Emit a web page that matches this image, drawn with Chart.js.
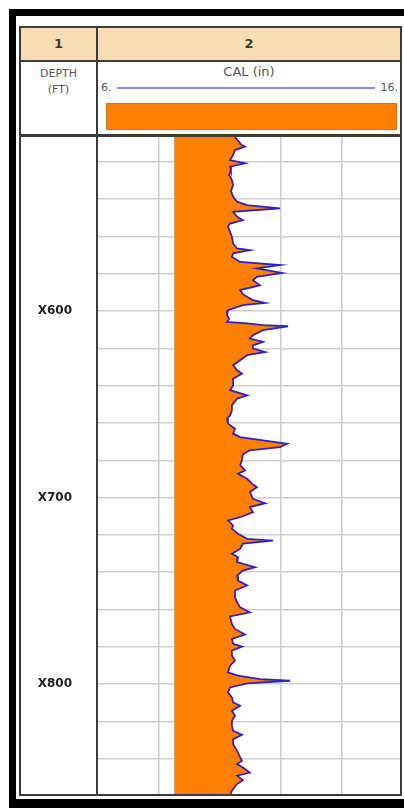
<!DOCTYPE html>
<html>
<head>
<meta charset="utf-8">
<script src="https://cdn.jsdelivr.net/npm/chart.js@4.4.1/dist/chart.umd.min.js"></script>
<style>
  html, body { margin: 0; padding: 0; background: #fff; }
  body { width: 404px; height: 808px; position: relative; overflow: hidden;
         font-family: "DejaVu Sans", "Liberation Sans", sans-serif; }
  .a { position: absolute; }
  .blk { background: #000; }
  .ln { background: #3c3c3c; }
  .hd { color: #555; text-align: center; white-space: nowrap; }
  #plot { position: absolute; left: 20px; top: 137px; }
</style>
</head>
<body>
  <!-- outer black frame -->
  <div class="a blk" style="left:9px;top:9px;width:395px;height:7px"></div>
  <div class="a blk" style="left:9px;top:9px;width:7px;height:799px"></div>
  <div class="a blk" style="left:9px;top:799px;width:395px;height:9px"></div>

  <!-- header band with track numbers -->
  <div class="a" style="left:21px;top:28px;width:379px;height:32px;background:#f6deb2"></div>
  <div class="a hd" style="left:21px;top:36px;width:75px;font-size:13px;font-weight:bold;color:#3a3a3a">1</div>
  <div class="a hd" style="left:98px;top:36px;width:302px;font-size:13px;font-weight:bold;color:#3a3a3a">2</div>

  <!-- curve header -->
  <div class="a hd" style="left:21px;top:66px;width:75px;font-size:11px;line-height:16px">DEPTH<br>(FT)</div>
  <div class="a hd" style="left:98px;top:64px;width:302px;font-size:13px">CAL (in)</div>
  <div class="a hd" style="left:101px;top:81px;font-size:11px;text-align:left">6.</div>
  <div class="a hd" style="left:374px;top:81px;width:24px;font-size:11px;text-align:right">16.</div>
  <div class="a" style="left:117px;top:87px;width:258px;height:2px;background:#8686ec"></div>
  <div class="a" style="left:106px;top:103px;width:291px;height:27px;background:#ff8000;box-shadow:inset 0 0 0 1px #e07410"></div>

  <canvas id="plot" width="383" height="659"></canvas>

  <!-- track frame lines -->
  <div class="a ln" style="left:19px;top:26px;width:383px;height:2px"></div>
  <div class="a ln" style="left:19px;top:60px;width:383px;height:2px"></div>
  <div class="a ln" style="left:19px;top:134px;width:383px;height:3px"></div>
  <div class="a ln" style="left:19px;top:794px;width:383px;height:2px"></div>
  <div class="a ln" style="left:19px;top:26px;width:2px;height:770px"></div>
  <div class="a ln" style="left:96px;top:26px;width:2px;height:770px"></div>
  <div class="a ln" style="left:400px;top:26px;width:2px;height:770px"></div>
  <div class="a" style="left:402px;top:16px;width:2px;height:783px;background:#fff"></div>

<script>
// Caliper log, track 2 (inches) against depth (ft)
const depth = [
  506.6, 510.9, 511.8, 513.6, 516.3, 519.0, 520.7, 522.5, 524.5, 527.0,
  529.7, 532.5, 535.5, 538.7, 541.3, 543.1, 544.9, 546.7, 549.4, 551.2,
  553.0, 554.8, 557.5, 560.1, 563.7, 566.4, 567.3, 569.0, 570.9, 573.6,
  575.3, 577.1, 579.5, 581.6, 583.4, 586.1, 588.7, 590.9, 592.3, 594.1,
  595.6, 596.8, 599.5, 602.2, 604.0, 605.8, 606.6, 607.5, 608.1, 610.2,
  612.9, 614.7, 616.5, 618.3, 620.1, 621.9, 623.6, 626.3, 629.0, 631.7,
  633.5, 636.2, 639.8, 642.4, 645.1, 646.9, 650.5, 653.2, 655.9, 657.6,
  660.3, 663.0, 665.7, 667.5, 669.3, 671.1, 672.9, 674.6, 676.8, 680.0,
  682.5, 685.4, 687.2, 689.9, 692.5, 694.4, 697.0, 700.6, 703.0, 705.1,
  707.8, 710.5, 712.2, 714.9, 716.7, 719.4, 722.1, 723.0, 724.7, 727.4,
  730.1, 731.9, 734.6, 737.3, 739.1, 741.8, 744.5, 747.1, 749.8, 753.4,
  756.1, 758.8, 761.5, 763.7, 767.7, 770.4, 773.4, 775.7, 778.4, 779.9,
  782.0, 784.7, 787.4, 790.1, 793.7, 795.5, 797.3, 798.2, 799.6, 801.8,
  804.4, 807.1, 809.8, 811.6, 814.3, 817.0, 819.6, 822.3, 825.0, 827.2,
  829.5, 832.2, 835.8, 839.3, 841.1, 842.9, 844.7, 847.4, 849.1, 851.5,
  853.6, 857.2, 860.0
];
const cal = [
  10.49, 10.71, 10.82, 10.49, 10.43, 10.33, 10.82, 10.33, 10.36, 10.30,
  10.39, 10.43, 10.36, 10.43, 10.56, 10.89, 11.97, 10.43, 10.56, 10.75,
  10.33, 10.26, 10.33, 10.39, 10.43, 10.56, 10.98, 10.43, 10.39, 10.66,
  11.97, 11.21, 12.03, 11.21, 11.08, 11.31, 10.66, 10.75, 10.89, 11.08,
  11.48, 10.75, 10.26, 10.23, 10.30, 10.23, 10.89, 11.41, 12.23, 11.41,
  11.08, 10.98, 11.41, 11.08, 11.08, 11.48, 10.89, 10.66, 10.43, 10.56,
  10.72, 10.43, 10.43, 10.33, 10.89, 10.56, 10.39, 10.39, 10.33, 10.23,
  10.26, 10.49, 10.43, 10.66, 11.41, 12.20, 11.97, 10.98, 10.75, 10.72,
  10.66, 10.82, 10.59, 10.89, 11.05, 11.21, 10.98, 11.08, 11.48, 10.98,
  11.08, 10.66, 10.26, 10.43, 10.39, 10.59, 10.89, 11.74, 10.75, 10.66,
  10.39, 10.59, 10.56, 11.15, 10.75, 10.56, 10.59, 10.89, 10.49, 10.49,
  10.56, 10.66, 10.98, 10.33, 10.39, 10.49, 10.82, 10.39, 10.43, 10.72,
  10.39, 10.39, 10.49, 10.33, 10.26, 10.59, 11.31, 12.30, 10.89, 10.33,
  10.26, 10.39, 10.43, 10.66, 10.39, 10.49, 10.39, 10.39, 10.43, 10.72,
  10.43, 10.43, 10.56, 10.66, 10.72, 10.56, 10.75, 10.98, 10.56, 10.75,
  10.56, 10.39, 10.33
];
const bitSize = 8.5;                 // fill baseline (in)
const calGrid = [8, 10, 12, 14];     // vertical grid, inches
const depthGrid = [520, 540, 560, 580, 600, 620, 640, 660, 680, 700,
                   720, 740, 760, 780, 800, 820, 840];
const labelDepths = [600, 700, 800];
const depthLabels = ['X600', 'X700', 'X800'];
const topDepth = 506.6, bottomDepth = 860;

const gridColor = '#d0d0d0';

new Chart(document.getElementById('plot'), {
  type: 'line',
  data: {
    datasets: [{
      data: depth.map((d, i) => ({ x: cal[i], y: d })),
      borderColor: '#2f22c8',
      borderWidth: 1.8,
      backgroundColor: '#ff8000',
      fill: { value: bitSize },
      pointRadius: 0,
      tension: 0
    }]
  },
  options: {
    indexAxis: 'y',
    responsive: false,
    animation: false,
    events: [],
    layout: { padding: 0 },
    plugins: { legend: { display: false }, tooltip: { enabled: false } },
    scales: {
      x: {
        type: 'linear', min: 6, max: 16, position: 'bottom',
        afterBuildTicks: s => { s.ticks = calGrid.map(v => ({ value: v })); },
        afterFit: s => { s.height = 0; s.paddingLeft = 0; s.paddingRight = 0; },
        ticks: { display: false },
        grid: { color: gridColor, lineWidth: 1.6, drawTicks: false },
        border: { display: false }
      },
      y: {
        type: 'linear', reverse: true, min: topDepth, max: bottomDepth,
        afterBuildTicks: s => { s.ticks = depthGrid.map(v => ({ value: v })); },
        afterFit: s => { s.width = 78; s.paddingTop = 0; s.paddingBottom = 0; },
        ticks: {
          autoSkip: false,
          crossAlign: 'center',
          padding: 26,
          color: '#222',
          font: { family: 'DejaVu Sans', size: 12, weight: 'bold' },
          callback: v => {
            const k = labelDepths.indexOf(v);
            return k >= 0 ? depthLabels[k] : '';
          }
        },
        grid: { color: gridColor, lineWidth: 1.6, drawTicks: false },
        border: { display: false }
      }
    }
  }
});
</script>
</body>
</html>
